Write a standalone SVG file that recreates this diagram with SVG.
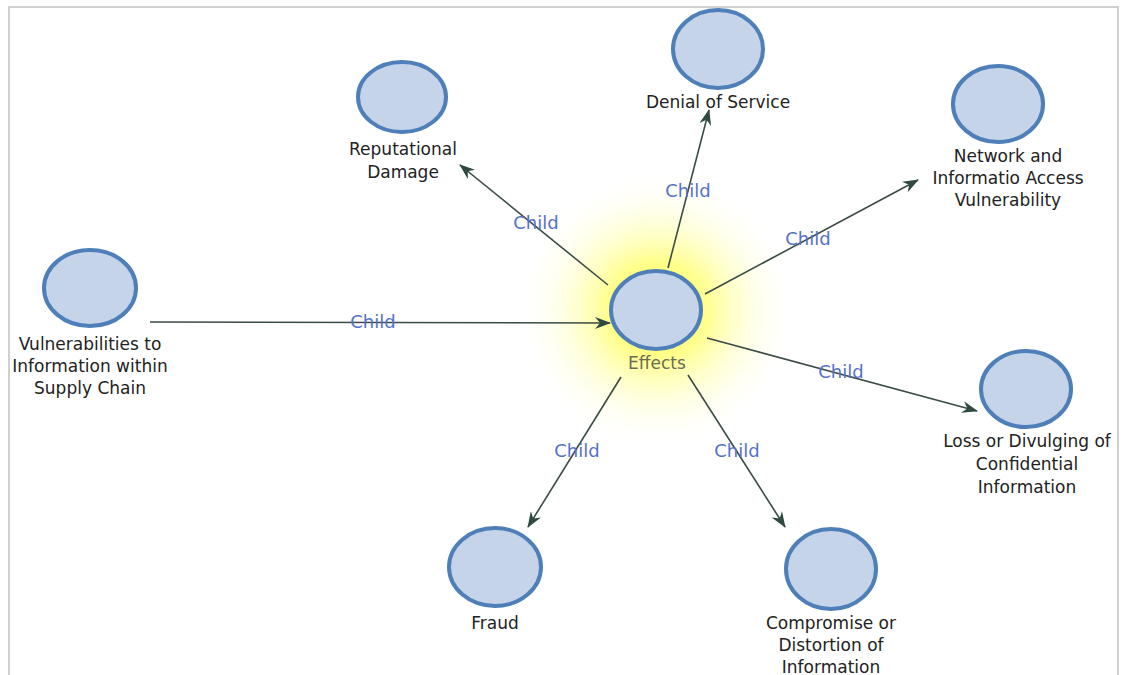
<svg xmlns="http://www.w3.org/2000/svg" width="1123" height="675" viewBox="0 0 1123 675">
<style>
.node{fill:#c6d4e9;stroke:#4f7fb8;stroke-width:4}
.lbl{font-family:"DejaVu Sans",sans-serif;font-size:17px;fill:#222;text-anchor:middle}
.edge{stroke:#3b4b46;stroke-width:1.6;fill:none;marker-end:url(#arr)}
.elbl{font-family:"DejaVu Sans",sans-serif;font-size:18px;fill:#5572c8;text-anchor:middle}
</style>
<defs>
<marker id="arr" viewBox="0 0 16 12" refX="15" refY="6" markerWidth="16" markerHeight="12" markerUnits="userSpaceOnUse" orient="auto">
<path d="M0,0 L16,6 L0,12 L5,6 Z" fill="#2f4a40"/>
</marker>
<radialGradient id="glow" cx="0.5" cy="0.5" r="0.5">
<stop offset="0" stop-color="#ffff50" stop-opacity="1"/>
<stop offset="0.35" stop-color="#ffff70" stop-opacity="0.8"/>
<stop offset="0.65" stop-color="#ffffb0" stop-opacity="0.4"/>
<stop offset="1" stop-color="#ffffff" stop-opacity="0"/>
</radialGradient>
</defs>
<rect x="0" y="0" width="1123" height="675" fill="#fff"/>
<path d="M9,676 V7 H1118 V676" fill="none" stroke="#d0d0d0" stroke-width="2"/>
<circle cx="657" cy="310" r="140" fill="url(#glow)"/>
<g id="connectors">
<line class="edge" x1="608" y1="285" x2="460" y2="165"/>
<line class="edge" x1="668" y1="268" x2="709" y2="110"/>
<line class="edge" x1="705" y1="294" x2="918" y2="180"/>
<line class="edge" x1="150" y1="322" x2="610" y2="323"/>
<line class="edge" x1="707" y1="338" x2="977" y2="411"/>
<line class="edge" x1="688" y1="375" x2="785" y2="527"/>
<line class="edge" x1="621" y1="377" x2="528" y2="527"/>
<text class="elbl" x="536" y="229">Child</text>
<text class="elbl" x="688" y="197">Child</text>
<text class="elbl" x="808" y="245">Child</text>
<text class="elbl" x="373" y="328">Child</text>
<text class="elbl" x="841" y="378">Child</text>
<text class="elbl" x="737" y="457">Child</text>
<text class="elbl" x="577" y="457">Child</text>
</g>
<g id="effects">
<ellipse class="node" cx="656" cy="310" rx="45" ry="39"/>
<text class="lbl" x="657" y="369" style="fill:#6b6b55">Effects</text>
</g>
<g id="reputational">
<ellipse class="node" cx="402" cy="97" rx="44" ry="35"/>
<text class="lbl" x="403" y="155">Reputational</text>
<text class="lbl" x="403" y="178">Damage</text>
</g>
<g id="denial">
<ellipse class="node" cx="718" cy="49" rx="45" ry="39"/>
<text class="lbl" x="718" y="108">Denial of Service</text>
</g>
<g id="network">
<ellipse class="node" cx="998" cy="104" rx="45" ry="38"/>
<text class="lbl" x="1008" y="162">Network and</text>
<text class="lbl" x="1008" y="184">Informatio Access</text>
<text class="lbl" x="1008" y="206">Vulnerability</text>
</g>
<g id="vulnerabilities">
<ellipse class="node" cx="90" cy="288" rx="46" ry="38"/>
<text class="lbl" x="90" y="350">Vulnerabilities to</text>
<text class="lbl" x="90" y="372">Information within</text>
<text class="lbl" x="90" y="394">Supply Chain</text>
</g>
<g id="loss">
<ellipse class="node" cx="1026" cy="389" rx="45" ry="38"/>
<text class="lbl" x="1027" y="447">Loss or Divulging of</text>
<text class="lbl" x="1027" y="470">Confidential</text>
<text class="lbl" x="1027" y="493">Information</text>
</g>
<g id="compromise">
<ellipse class="node" cx="831" cy="569" rx="45" ry="40"/>
<text class="lbl" x="831" y="629">Compromise or</text>
<text class="lbl" x="831" y="651">Distortion of</text>
<text class="lbl" x="831" y="673">Information</text>
</g>
<g id="fraud">
<ellipse class="node" cx="495" cy="567" rx="46" ry="39"/>
<text class="lbl" x="495" y="629">Fraud</text>
</g>
</svg>
